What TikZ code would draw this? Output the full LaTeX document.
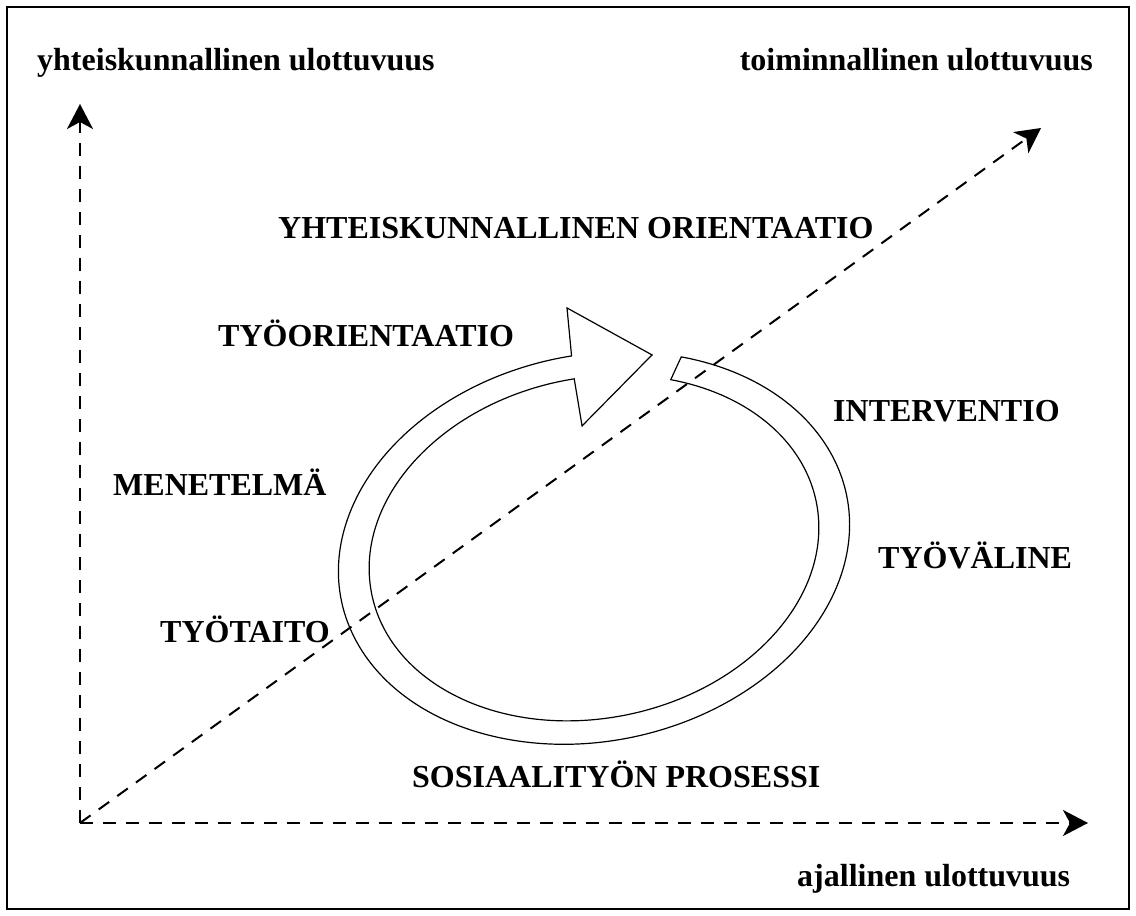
\documentclass[tikz,border=0pt]{standalone}
\usepackage{fontspec}
\setmainfont{Liberation Serif}
\usetikzlibrary{positioning,arrows.meta}

\begin{document}
\begin{tikzpicture}[x=1pt, y=1pt, >={Stealth[length=25pt, width=26pt, inset=7pt]},
  every node/.append style={inner sep=0pt, font=\fontsize{32}{38}\selectfont\bfseries},
  axisline/.style={line width=2pt, dash pattern=on 13pt off 10pt},
  ringline/.style={line width=1.2pt, line join=miter}]
  \useasboundingbox (0,0) rectangle (1136,916);
  \draw[line width=1.8pt] (7,7) rectangle (1129,909);
  % axes
  \coordinate (o) at (80,93);
  \coordinate (ytip) at (80,812);
  \coordinate (ttip) at (1041,788);
  \coordinate (atip) at (1088,93);
  \draw[axisline,->] (o) -- (ytip);
  \draw[axisline,->] (o) -- (atip);
  \draw[axisline,->] (o) -- (ttip);
  % labels
  \node[anchor=base west] at (37,845) (yul) {yhteiskunnallinen ulottuvuus};
  \node[anchor=base east] at (1093,845) (tul) {toiminnallinen ulottuvuus};
  \node[anchor=base west] at (278,677) (yor) {YHTEISKUNNALLINEN ORIENTAATIO};
  \node[anchor=base west] at (218,569) (tor) {TYÖORIENTAATIO};
  \node[anchor=base west] at (833,494) (int) {INTERVENTIO};
  \node[anchor=base west] at (113,420) (men) {MENETELMÄ};
  \node[anchor=base west] at (878,347) (tyv) {TYÖVÄLINE};
  \node[anchor=base west] at (160,273) (tyt) {TYÖTAITO};
  \node[anchor=base west] at (412,128) (sos) {SOSIAALITYÖN PROSESSI};
  \node[anchor=base west] at (797,29) (ajul) {ajallinen ulottuvuus};
  % process ring
  \begin{scope}[shift={(594,368)}, rotate=12]
    \draw[ringline] (61:258 and 193) arc[start angle=61, end angle=-274, x radius=258, y radius=193]
      -- (23.5,240.4) -- (96.9,176.8) -- (13.7,121.9)
      -- (-274:227 and 170) arc[start angle=-274, end angle=61, x radius=227, y radius=170] -- cycle;
  \end{scope}
\end{tikzpicture}
\end{document}
